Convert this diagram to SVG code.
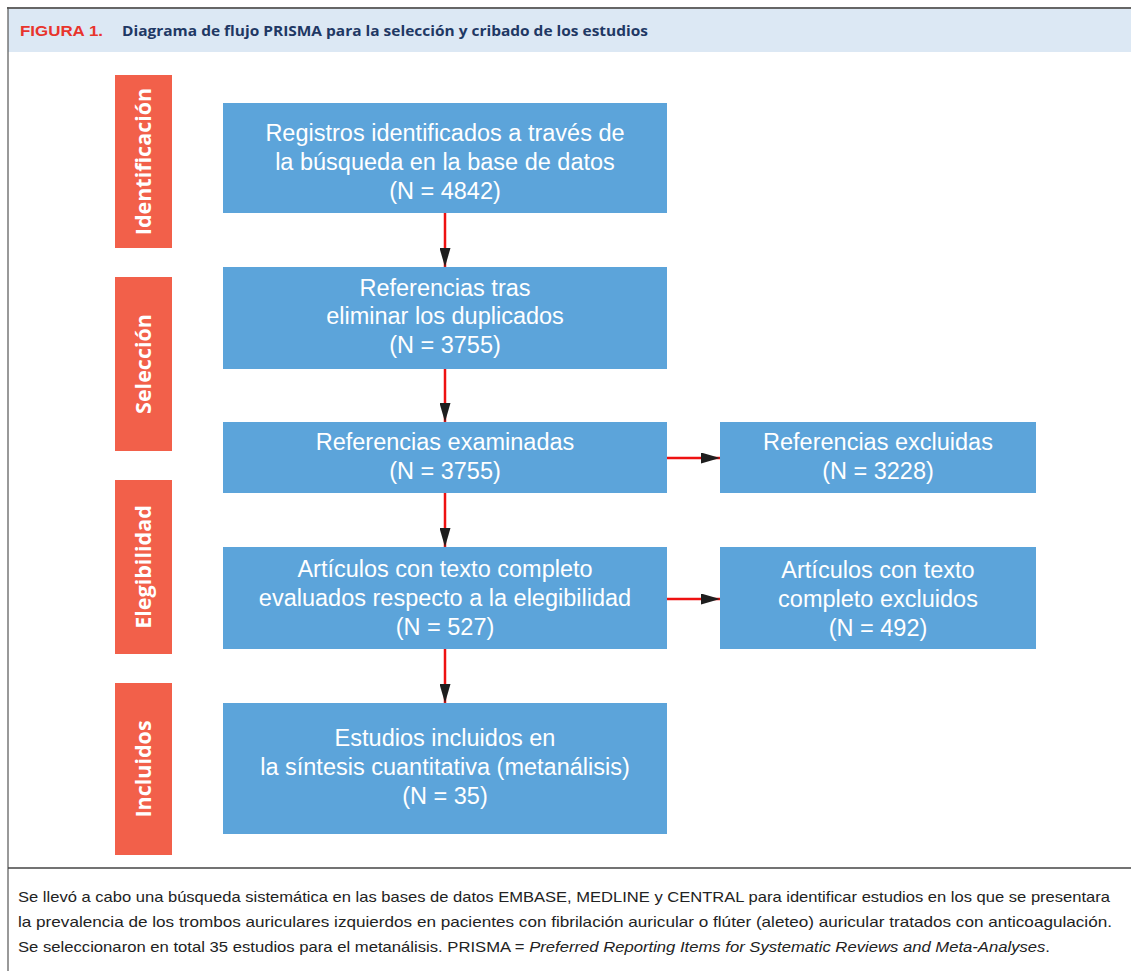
<svg xmlns="http://www.w3.org/2000/svg" width="1131" height="971" viewBox="0 0 1131 971">
<defs>
<style>
.tab{fill:#F2604A}
.box{fill:#5CA4DA}
.tt{font-family:"Open Sans","Liberation Sans",sans-serif;font-weight:bold;font-size:21.5px;fill:#fff;text-anchor:middle}
.bt{font-family:"Liberation Sans","Noto Sans",sans-serif;font-size:23.5px;fill:#fff;text-anchor:middle}
.cap{font-family:"Liberation Sans","Noto Sans",sans-serif;font-size:15px;fill:#222}
.conn{stroke:#EE1111;stroke-width:2.5;fill:none}
</style>
<marker id="ah" viewBox="0 0 19 11" refX="19" refY="5.5" markerWidth="19" markerHeight="11" markerUnits="userSpaceOnUse" orient="auto">
<path d="M0,0 L19,5.5 L0,11 z" fill="#1e1e1e"/>
</marker>
</defs>
<rect x="0" y="0" width="1131" height="971" fill="#fff"/>
<g id="frame">
<rect x="8" y="9" width="1123" height="43" fill="#DCE8F4"/>
<line x1="7" y1="8" x2="1131" y2="8" stroke="#333" stroke-width="1.6"/>
<line x1="8" y1="7" x2="8" y2="971" stroke="#555" stroke-width="1.2"/>
<line x1="8" y1="868" x2="1131" y2="868" stroke="#444" stroke-width="1.5"/>
<text x="20" y="36" font-family="Liberation Sans,sans-serif" font-weight="bold" font-size="14.5" fill="#E8342C" textLength="83" lengthAdjust="spacingAndGlyphs">FIGURA 1.</text>
<text x="122" y="36" font-family="Open Sans,Liberation Sans,sans-serif" font-weight="bold" font-size="14.5" fill="#1F3864" textLength="526" lengthAdjust="spacingAndGlyphs">Diagrama de flujo PRISMA para la selección y cribado de los estudios</text>
</g>
<g id="tab-identificacion"><rect class="tab" x="115" y="75" width="57" height="173"/><text class="tt" transform="translate(151,161.5) rotate(-90)">Identificación</text></g>
<g id="tab-seleccion"><rect class="tab" x="115" y="277" width="57" height="174"/><text class="tt" transform="translate(151,364) rotate(-90)">Selección</text></g>
<g id="tab-elegibilidad"><rect class="tab" x="115" y="480" width="57" height="174"/><text class="tt" transform="translate(151,567) rotate(-90)">Elegibilidad</text></g>
<g id="tab-incluidos"><rect class="tab" x="115" y="683" width="57" height="172"/><text class="tt" transform="translate(151,769) rotate(-90)">Incluidos</text></g>
<g id="connectors">
<line class="conn" x1="445" y1="213" x2="445" y2="267" marker-end="url(#ah)"/>
<line class="conn" x1="445" y1="369" x2="445" y2="422" marker-end="url(#ah)"/>
<line class="conn" x1="445" y1="493" x2="445" y2="547" marker-end="url(#ah)"/>
<line class="conn" x1="445" y1="649" x2="445" y2="703" marker-end="url(#ah)"/>
<line class="conn" x1="667" y1="458" x2="720" y2="458" marker-end="url(#ah)"/>
<line class="conn" x1="667" y1="599" x2="720" y2="599" marker-end="url(#ah)"/>
</g>
<g id="n1"><rect class="box" x="223" y="103" width="444" height="110"/>
<text class="bt" x="445" y="141">Registros identificados a través de</text>
<text class="bt" x="445" y="170">la búsqueda en la base de datos</text>
<text class="bt" x="445" y="199">(N = 4842)</text></g>
<g id="n2"><rect class="box" x="223" y="267" width="444" height="102"/>
<text class="bt" x="445" y="296">Referencias tras</text>
<text class="bt" x="445" y="324">eliminar los duplicados</text>
<text class="bt" x="445" y="353">(N = 3755)</text></g>
<g id="n3"><rect class="box" x="223" y="422" width="444" height="71"/>
<text class="bt" x="445" y="450">Referencias examinadas</text>
<text class="bt" x="445" y="479">(N = 3755)</text></g>
<g id="n3x"><rect class="box" x="720" y="422" width="316" height="71"/>
<text class="bt" x="878" y="450">Referencias excluidas</text>
<text class="bt" x="878" y="479">(N = 3228)</text></g>
<g id="n4"><rect class="box" x="223" y="547" width="444" height="102"/>
<text class="bt" x="445" y="577">Artículos con texto completo</text>
<text class="bt" x="445" y="606">evaluados respecto a la elegibilidad</text>
<text class="bt" x="445" y="635">(N = 527)</text></g>
<g id="n4x"><rect class="box" x="720" y="547" width="316" height="102"/>
<text class="bt" x="878" y="578">Artículos con texto</text>
<text class="bt" x="878" y="607">completo excluidos</text>
<text class="bt" x="878" y="636">(N = 492)</text></g>
<g id="n5"><rect class="box" x="223" y="703" width="444" height="131"/>
<text class="bt" x="445" y="746">Estudios incluidos en</text>
<text class="bt" x="445" y="775">la síntesis cuantitativa (metanálisis)</text>
<text class="bt" x="445" y="804">(N = 35)</text></g>
<g id="caption">
<text class="cap" x="18" y="902" textLength="1092" lengthAdjust="spacingAndGlyphs">Se llevó a cabo una búsqueda sistemática en las bases de datos EMBASE, MEDLINE y CENTRAL para identificar estudios en los que se presentara</text>
<text class="cap" x="18" y="927" textLength="1094" lengthAdjust="spacingAndGlyphs">la prevalencia de los trombos auriculares izquierdos en pacientes con fibrilación auricular o flúter (aleteo) auricular tratados con anticoagulación.</text>
<text class="cap" x="18" y="952" textLength="1032" lengthAdjust="spacingAndGlyphs">Se seleccionaron en total 35 estudios para el metanálisis. PRISMA = <tspan font-style="italic">Preferred Reporting Items for Systematic Reviews and Meta-Analyses</tspan>.</text>
</g>
</svg>
